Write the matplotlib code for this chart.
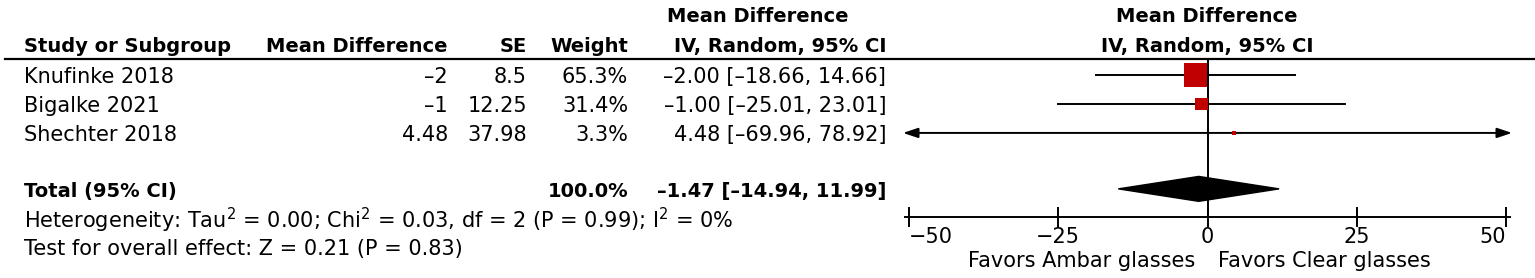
import matplotlib.pyplot as plt
from matplotlib.transforms import blended_transform_factory
from matplotlib.lines import Line2D

# datos del forest plot
estudios = ['Knufinke 2018', 'Bigalke 2021', 'Shechter 2018']
md = [-2, -1, 4.48]
md_txt = ['\u20132', '\u20131', '4.48']
se_txt = ['8.5', '12.25', '37.98']
peso = [65.3, 31.4, 3.3]
peso_txt = ['65.3%', '31.4%', '3.3%']
ci_lo = [-18.66, -25.01, -69.96]
ci_hi = [14.66, 23.01, 78.92]
ci_txt = ['\u20132.00 [\u201318.66, 14.66]', '\u20131.00 [\u201325.01, 23.01]', '4.48 [\u201369.96, 78.92]']
total_md = -1.47
total_lo = -14.94
total_hi = 11.99
total_txt = '\u20131.47 [\u201314.94, 11.99]'
ticks = [-50, -25, 0, 25, 50]
heterog = r'Heterogeneity: Tau$^2$ = 0.00; Chi$^2$ = 0.03, df = 2 (P = 0.99); I$^2$ = 0%'
efecto = 'Test for overall effect: Z = 0.21 (P = 0.83)'

W, H = 1535, 278
fs = 15      # texto normal
fsb = 14     # texto en negrita
plt.rcParams['font.family'] = ['DejaVu Sans']
plt.rcParams['mathtext.fontset'] = 'dejavusans'

fig = plt.figure(figsize=(W / 100, H / 100), dpi=100)
# eje del forest: -52..52 -> 897..1518 px, de la linea de cabecera (59) al eje (217)
ax = fig.add_axes([897 / W, 1 - 217 / H, 621 / W, 158 / H])
ax.set_xlim(-52, 52)
ax.set_ylim(4.90, -0.55)
for s in ['top', 'right', 'left']:
    ax.spines[s].set_visible(False)
ax.spines['bottom'].set_bounds(-50.7, 50.7)
ax.spines['bottom'].set_linewidth(1.4)
ax.set_yticks([])
ax.set_xticks(ticks)
ax.tick_params(axis='x', direction='inout', length=14, width=1.4, labelsize=fs, pad=0)
labs = ax.get_xticklabels()
labs[0].set_ha('left')
labs[-1].set_ha('right')
ax.patch.set_visible(False)

filas = list(range(len(estudios)))
ax.axvline(0, color='black', lw=1.4)

for i in filas:
    lo = max(ci_lo[i], -51)
    hi = min(ci_hi[i], 51)
    if ci_lo[i] < -51 or ci_hi[i] > 51:
        ax.annotate('', xy=(lo, i), xytext=(hi, i),
                    arrowprops=dict(arrowstyle='<|-|>,head_length=0.9,head_width=0.3',
                                    color='black', lw=1.4, shrinkA=0, shrinkB=0))
    else:
        ax.plot([lo, hi], [i, i], color='black', lw=1.4)
# lado del cuadrado segun el peso
ax.scatter(md, filas, s=[(0.23 * p + 1.8) ** 2 for p in peso], marker='s',
           color='#C00000', zorder=3, linewidths=0)

fila_total = 3.93
h = 0.43
ax.fill([total_lo, total_md, total_hi, total_md],
        [fila_total, fila_total - h, fila_total, fila_total + h], color='black', zorder=3)

# textos "Favors" bajo el eje
trx = blended_transform_factory(ax.transData, fig.transFigure)
yf = 1 - 267 / H
ax.text(-2, yf, 'Favors Ambar glasses', transform=trx, ha='right', va='baseline', fontsize=fs)
ax.text(1.7, yf, 'Favors Clear glasses', transform=trx, ha='left', va='baseline', fontsize=fs)

# tabla de la izquierda (lineas base en px)
x_est, x_md, x_se, x_w, x_ci = 24 / W, 448 / W, 527 / W, 628 / W, 886 / W
for i in filas:
    yb = 1 - (83 + 29 * i) / H
    fig.text(x_est, yb, estudios[i], ha='left', va='baseline', fontsize=fs)
    fig.text(x_md, yb, md_txt[i], ha='right', va='baseline', fontsize=fs)
    fig.text(x_se, yb, se_txt[i], ha='right', va='baseline', fontsize=fs)
    fig.text(x_w, yb, peso_txt[i], ha='right', va='baseline', fontsize=fs)
    fig.text(x_ci, yb, ci_txt[i], ha='right', va='baseline', fontsize=fs)

yt = 1 - 197 / H
fig.text(x_est, yt, 'Total (95% CI)', ha='left', va='baseline', fontsize=fsb, weight='bold')
fig.text(x_w, yt, '100.0%', ha='right', va='baseline', fontsize=fsb, weight='bold')
fig.text(x_ci, yt, total_txt, ha='right', va='baseline', fontsize=fsb, weight='bold')

fig.text(x_est, 1 - 228 / H, heterog, ha='left', va='baseline', fontsize=fs)
fig.text(x_est, 1 - 255 / H, efecto, ha='left', va='baseline', fontsize=fs)

# cabeceras
y1, y2 = 1 - 22 / H, 1 - 52 / H
fig.text(x_est, y2, 'Study or Subgroup', ha='left', va='baseline', fontsize=fsb, weight='bold')
fig.text(x_md, y2, 'Mean Difference', ha='right', va='baseline', fontsize=fsb, weight='bold')
fig.text(x_se, y2, 'SE', ha='right', va='baseline', fontsize=fsb, weight='bold')
fig.text(x_w, y2, 'Weight', ha='right', va='baseline', fontsize=fsb, weight='bold')
fig.text(758 / W, y1, 'Mean Difference', ha='center', va='baseline', fontsize=fsb, weight='bold')
fig.text(x_ci, y2, 'IV, Random, 95% CI', ha='right', va='baseline', fontsize=fsb, weight='bold')
fig.text(1207 / W, y1, 'Mean Difference', ha='center', va='baseline', fontsize=fsb, weight='bold')
fig.text(1207 / W, y2, 'IV, Random, 95% CI', ha='center', va='baseline', fontsize=fsb, weight='bold')

fig.add_artist(Line2D([5 / W, 1], [1 - 59 / H, 1 - 59 / H], color='black', lw=1.6))

fig.savefig('out.png', dpi=100)
